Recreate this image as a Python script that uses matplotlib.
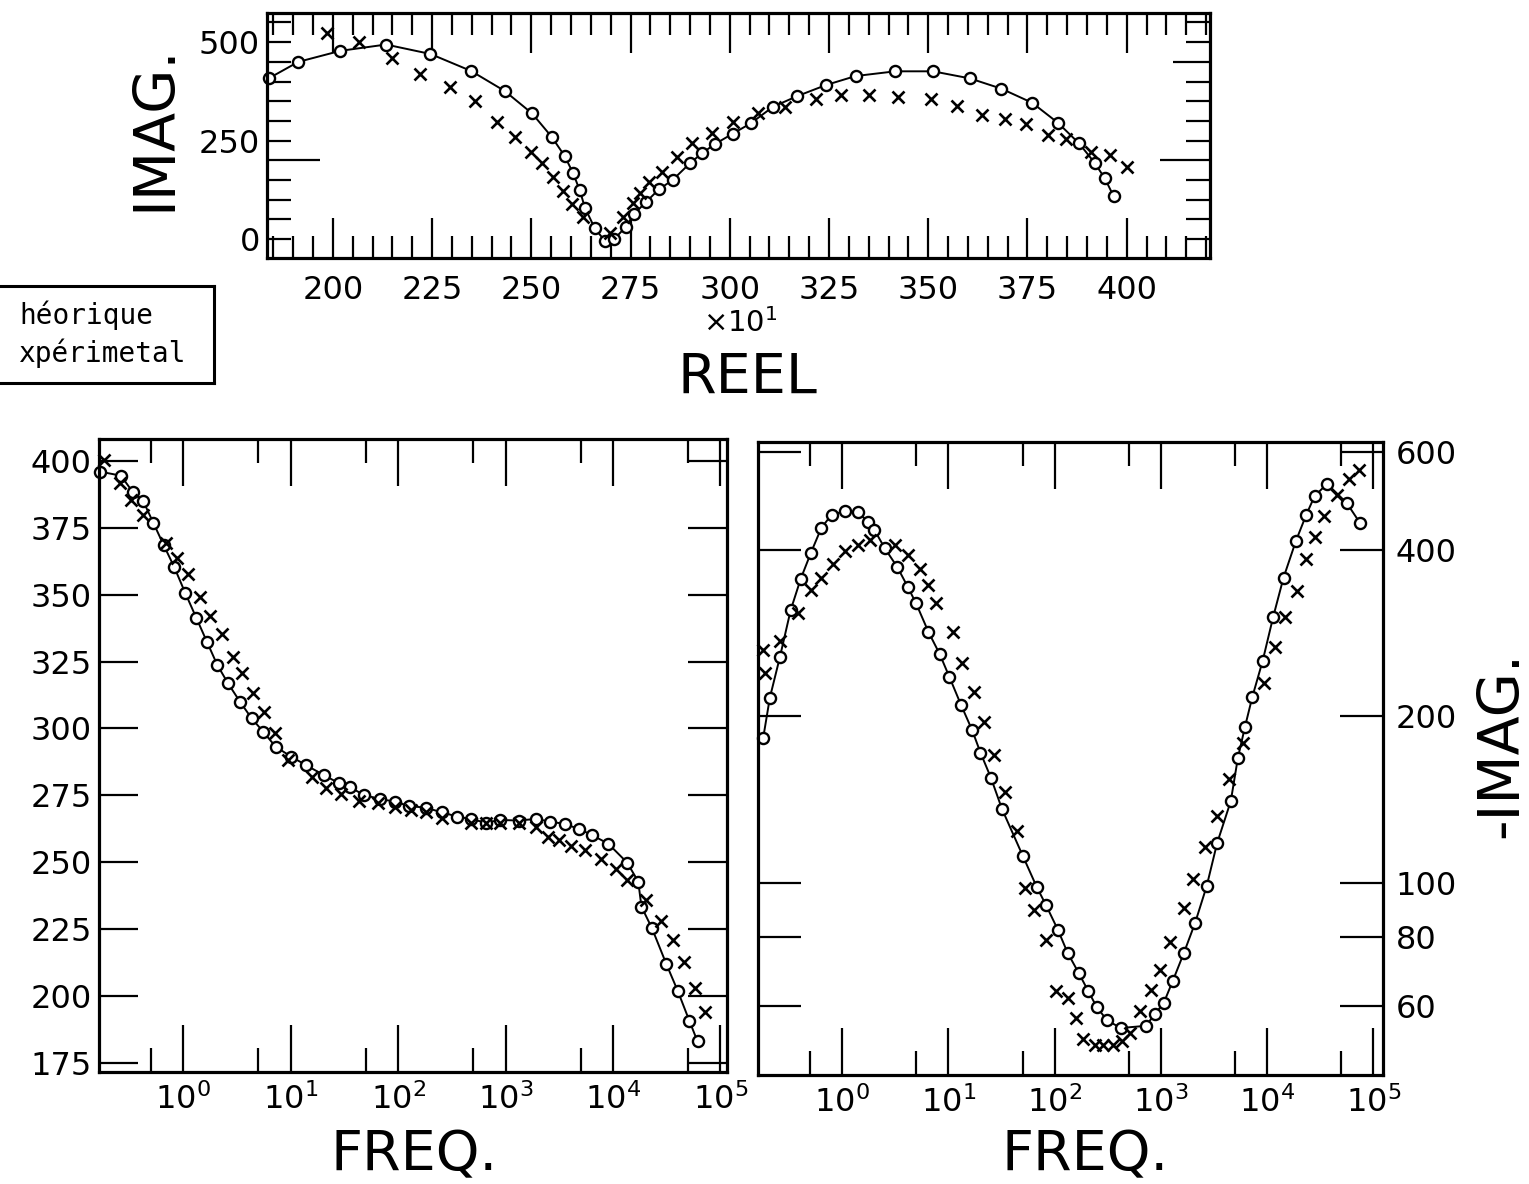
import numpy as np
import matplotlib
matplotlib.use("Agg")
import matplotlib.pyplot as plt
from matplotlib.ticker import MultipleLocator, NullLocator, NullFormatter
from matplotlib.lines import Line2D

# top panel: Nyquist plot, REEL (x10) vs IMAG
top_theo_re = [184.0, 191.3, 201.9, 213.4, 224.6, 234.8, 243.3, 250.2, 255.1, 258.4,
               260.5, 262.2, 263.5, 266.0, 268.5, 270.8, 273.8, 275.8, 279.0, 282.1,
               285.6, 289.9, 293.0, 296.2, 300.8, 305.3, 310.9, 317.0, 324.2, 331.7,
               341.7, 351.2, 360.5, 368.4, 376.2, 382.7, 388.0, 391.9, 394.5, 396.7]
top_theo_im = [409, 450, 478, 494, 470, 427, 376, 319, 260, 211,
               168, 124, 80, 27, -4, -1, 31, 63, 95, 126,
               150, 192, 218, 241, 268, 294, 336, 363, 391, 414,
               426, 426, 408, 382, 346, 295, 243, 194, 154, 109]
top_exp_re = [198.4, 206.6, 214.8, 221.9, 229.5, 235.8, 241.4, 245.8, 250.0, 252.8,
              255.5, 258.0, 260.3, 262.9, 269.8, 273.1, 275.5, 277.3, 279.7, 282.8,
              286.6, 290.6, 295.4, 300.8, 307.1, 313.9, 321.7, 328.1, 335.1, 342.4,
              350.6, 357.3, 363.6, 369.3, 374.6, 380.2, 384.8, 391.1, 395.7, 400.1]
top_exp_im = [524, 501, 459, 419, 387, 350, 298, 260, 222, 192,
              158, 123, 89, 55, 15, 57, 91, 118, 145, 171,
              209, 243, 270, 298, 319, 336, 355, 366, 367, 361,
              355, 338, 315, 306, 292, 264, 253, 222, 213, 182]

# bottom left: REEL vs FREQ (log10 of frequency)
bl_theo_logf = [-0.772, -0.579, -0.471, -0.374, -0.278, -0.182, -0.085, 0.02, 0.124, 0.22,
                0.317, 0.417, 0.529, 0.637, 0.745, 0.86, 1.004, 1.139, 1.312, 1.448,
                1.556, 1.679, 1.833, 1.968, 2.103, 2.258, 2.412, 2.548, 2.683, 2.817,
                2.952, 3.127, 3.281, 3.416, 3.551, 3.686, 3.803, 3.957, 4.131, 4.235,
                4.265, 4.362, 4.497, 4.605, 4.71, 4.787]
bl_theo_re = [396, 394.5, 388.5, 385.2, 376.9, 368.6, 360.5, 350.6, 341.2, 332.5,
              323.8, 316.9, 310.0, 303.8, 298.8, 293.2, 289.5, 286.4, 282.5, 279.6,
              278.0, 275.2, 273.6, 272.7, 271.0, 270.4, 268.6, 267.1, 266.1, 264.8,
              265.8, 265.6, 266.2, 265.2, 264.3, 262.4, 260.2, 256.9, 249.9, 242.8,
              233.4, 225.4, 211.9, 201.7, 190.8, 183.0]
bl_exp_logf = [-0.734, -0.59, -0.49, -0.374, -0.162, -0.058, 0.047, 0.155, 0.251, 0.359,
               0.463, 0.552, 0.648, 0.752, 0.857, 0.977, 1.196, 1.331, 1.466, 1.64,
               1.814, 1.968, 2.123, 2.258, 2.412, 2.683, 2.817, 2.952, 3.127, 3.281,
               3.397, 3.494, 3.609, 3.744, 3.887, 4.026, 4.131, 4.305, 4.451, 4.555,
               4.659, 4.76, 4.852]
bl_exp_re = [400.4, 391.9, 385.4, 379.8, 369.2, 363.6, 357.8, 349.3, 342.1, 335.4,
             326.9, 320.7, 313.2, 306.3, 298.2, 288.3, 282.0, 277.7, 275.6, 273.0,
             272.3, 270.6, 269.6, 268.6, 266.7, 264.8, 264.6, 264.8, 264.6, 263.3,
             259.6, 258.4, 256.1, 254.4, 251.2, 247.5, 243.4, 236.0, 227.9, 221.0,
             212.9, 203.0, 194.2]

# bottom right: -IMAG vs FREQ (log10 of frequency)
br_theo_logf = [-0.742, -0.68, -0.585, -0.484, -0.39, -0.293, -0.195, -0.097, 0.024, 0.149,
                0.247, 0.305, 0.403, 0.52, 0.617, 0.696, 0.813, 0.919, 1.008, 1.118,
                1.223, 1.302, 1.4, 1.505, 1.7, 1.83, 1.919, 2.032, 2.122, 2.228,
                2.318, 2.396, 2.493, 2.622, 2.857, 2.943, 3.028, 3.11, 3.217, 3.322,
                3.431, 3.529, 3.658, 3.724, 3.79, 3.861, 3.958, 4.056, 4.154, 4.271,
                4.369, 4.447, 4.564, 4.748, 4.877]
br_theo_im = [183, 216, 256, 311, 354, 395, 438, 463, 469, 467,
              449, 434, 402, 372, 343, 320, 284, 259, 236, 210,
              189, 172, 155, 136, 112, 98.5, 91.2, 82.2, 74.8, 68.7,
              63.7, 59.7, 56.5, 54.7, 55.2, 57.9, 60.8, 66.4, 74.8, 84.7,
              98.7, 118, 140.6, 168, 191, 217, 252, 302, 356, 415,
              463, 500, 526, 486, 446]
br_exp_logf = [-0.742, -0.73, -0.585, -0.418, -0.288, -0.195, -0.086, 0.032, 0.149, 0.266,
               0.5, 0.617, 0.735, 0.805, 0.883, 1.047, 1.125, 1.243, 1.34, 1.431,
               1.536, 1.646, 1.724, 1.81, 1.915, 2.017, 2.122, 2.201, 2.271, 2.376,
               2.454, 2.552, 2.638, 2.708, 2.806, 2.903, 2.993, 3.088, 3.217, 3.306,
               3.412, 3.529, 3.645, 3.775, 3.971, 4.076, 4.166, 4.283, 4.369, 4.447,
               4.533, 4.662, 4.767, 4.869]
br_exp_im = [263, 239, 274, 308, 338, 356, 377, 397, 408, 416,
             408, 392, 369, 345, 320, 284, 250, 221, 195, 170,
             146, 124, 97.8, 89.3, 78.9, 63.8, 62, 57, 52.3, 51,
             51, 51, 51.8, 53.6, 58.6, 64.1, 69.7, 78.3, 90, 101.6,
             116, 132, 154, 179, 230, 267, 302, 337, 385, 422,
             460, 502, 536, 556]

top_yticks = np.arange(0, 551, 50)
top_ylabels = {0: '0', 250: '250', 500: '500'}
bl_yticks = np.arange(175, 401, 25)
br_yticks = [60, 80, 100, 200, 400, 600]
freq_decades = np.arange(0, 6)

plt.rcParams['font.family'] = 'DejaVu Sans'

fig = plt.figure(figsize=(15.29, 11.84), dpi=100)

theo_kw = dict(color='black', lw=1.4, marker='o', ms=8, mfc='white', mec='black', mew=1.7, clip_on=False)
exp_kw = dict(color='black', ls='none', marker='x', ms=9, mew=1.9, clip_on=False)


def style_spines(ax):
    for s in ax.spines.values():
        s.set_linewidth(2.3)


# ---- top panel ----
ax = fig.add_axes([0.1746, 0.7821, 0.6168, 0.2069])
ax.plot(top_theo_re, top_theo_im, **theo_kw)
ax.plot(top_exp_re, top_exp_im, **exp_kw)
ax.set_xlim(183.4, 421)
ax.set_ylim(-48, 574)
ax.xaxis.set_major_locator(MultipleLocator(25))
ax.xaxis.set_minor_locator(MultipleLocator(5))
ax.tick_params(axis='x', which='major', direction='in', length=29, width=1.6,
               top=True, bottom=True, labelsize=23, pad=12)
ax.tick_params(axis='x', which='minor', direction='in', length=16, width=1.6,
               top=True, bottom=True)
ax.set_yticks(top_yticks)
ax.set_yticklabels([top_ylabels.get(int(v), '') for v in top_yticks])
ax.tick_params(axis='y', which='major', direction='in', length=17, width=1.6,
               left=True, right=True, labelsize=23, pad=5)
for t, v in zip(ax.yaxis.get_major_ticks(), top_yticks):
    if v == 200:
        t.tick1line.set_markersize(38)
        t.tick2line.set_markersize(36)
    if v == 450:
        t.tick2line.set_markersize(27)
style_spines(ax)

fig.text(0.1014, 0.8919, 'IMAG.', rotation=90, ha='center', va='center', fontsize=41)
fig.text(0.484, 0.7272, r'$\mathregular{\times10^{1}}$', ha='center', va='center', fontsize=21)
fig.text(0.4886, 0.6807, 'REEL', ha='center', va='center', fontsize=40)


def freq_axis(ax, xmin, xmax):
    ax.set_xscale('log')
    ax.set_xlim(10.0 ** xmin, 10.0 ** xmax)
    ax.set_xticks(10.0 ** freq_decades)
    ax.set_xticklabels([r'$\mathregular{10^{%d}}$' % k for k in freq_decades])
    ax.set_xticks(5 * 10.0 ** np.arange(-1, 5), minor=True)
    ax.xaxis.set_minor_formatter(NullFormatter())
    ax.tick_params(axis='x', which='major', direction='in', length=34, width=1.6,
                   top=True, bottom=True, labelsize=23, pad=8)
    ax.tick_params(axis='x', which='minor', direction='in', length=17, width=1.6,
                   top=True, bottom=True)


# ---- bottom left ----
ax = fig.add_axes([0.0647, 0.0946, 0.4107, 0.5346])
ax.plot(10.0 ** np.array(bl_theo_logf), bl_theo_re, **theo_kw)
ax.plot(10.0 ** np.array(bl_exp_logf), bl_exp_re, **exp_kw)
freq_axis(ax, -0.784, 5.06)
ax.set_ylim(171.6, 408.2)
ax.set_yticks(bl_yticks)
ax.tick_params(axis='y', which='major', direction='in', length=28, width=1.6,
               left=True, right=True, labelsize=23, pad=5)
style_spines(ax)
fig.text(0.2708, 0.0245, 'FREQ.', ha='center', va='center', fontsize=40)

# ---- bottom right ----
ax = fig.add_axes([0.4957, 0.0921, 0.4088, 0.5346])
ax.plot(10.0 ** np.array(br_theo_logf), br_theo_im, **theo_kw)
ax.plot(10.0 ** np.array(br_exp_logf), br_exp_im, **exp_kw)
freq_axis(ax, -0.792, 5.09)
ax.set_yscale('log')
ax.set_ylim(45, 626)
ax.set_yticks(br_yticks)
ax.set_yticklabels([str(v) for v in br_yticks])
ax.yaxis.set_minor_locator(NullLocator())
ax.tick_params(axis='y', which='major', direction='in', length=31, width=1.6,
               left=True, right=True, labelleft=False, labelright=True,
               labelsize=23, pad=9)
style_spines(ax)
fig.text(0.7096, 0.0245, 'FREQ.', ha='center', va='center', fontsize=40)
fig.text(0.9823, 0.3708, '-IMAG.', rotation=90, ha='center', va='center', fontsize=41)

# ---- legend box (cut at the left edge) ----
bx, by0, by1 = 214 / 1529, 1 - 286 / 1184, 1 - 383 / 1184
for xs, ys in [([0, bx], [by0, by0]), ([0, bx], [by1, by1]), ([bx, bx], [by0, by1])]:
    fig.add_artist(Line2D(xs, ys, transform=fig.transFigure, color='black', lw=2.2))
fig.text(0.0124, 0.734, 'héorique', ha='left', va='center', fontsize=20, family='DejaVu Sans Mono')
fig.text(0.0124, 0.7019, 'xpérimetal', ha='left', va='center', fontsize=20, family='DejaVu Sans Mono')

fig.savefig('out.png', dpi=100)
